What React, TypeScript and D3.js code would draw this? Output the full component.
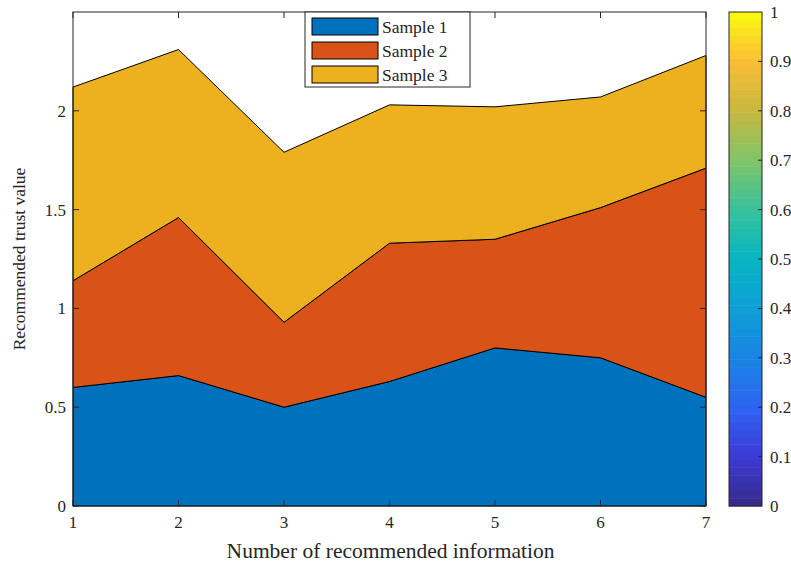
import React, { useEffect, useRef } from "react";
import * as d3 from "d3";

// Recommendation index on the x axis
const steps = [1, 2, 3, 4, 5, 6, 7];
// Stacked series values (each layer's own height)
const sample1 = [0.6, 0.66, 0.5, 0.63, 0.8, 0.75, 0.55];
const sample2 = [0.54, 0.8, 0.43, 0.7, 0.55, 0.76, 1.16];
const sample3 = [0.98, 0.85, 0.86, 0.7, 0.67, 0.56, 0.57];
const seriesNames = ["Sample 1", "Sample 2", "Sample 3"];
const seriesColors = ["#0072BD", "#D95319", "#EDB120"];
const yTicks = [0, 0.5, 1, 1.5, 2];
const cbTicks = [0, 0.1, 0.2, 0.3, 0.4, 0.5, 0.6, 0.7, 0.8, 0.9, 1];
// parula colormap anchors
const parulaStops = [
  "#352a87", "#3d3ad6", "#2d64f1", "#1a84e4", "#0e9fd6", "#07b5c3",
  "#38c29a", "#80c468", "#c8b840", "#fbbd36", "#f9fb0e",
];

const W = 791;
const H = 565;
const FONT = "Liberation Serif, Times New Roman, DejaVu Serif, serif";
const AXIS = "#262626";

export default function App() {
  const ref = useRef<SVGSVGElement>(null);

  useEffect(() => {
    const svg = d3.select(ref.current);
    svg.selectAll("*").remove();

    const plot = { left: 73, right: 706, top: 12, bottom: 506 };
    const x = d3.scaleLinear().domain([1, 7]).range([plot.left, plot.right]);
    const y = d3.scaleLinear().domain([0, 2.5]).range([plot.bottom, plot.top]);

    const rows = steps.map((s, i) => ({
      step: s,
      s1: sample1[i],
      s2: sample2[i],
      s3: sample3[i],
    }));
    const stacked = d3.stack<any>().keys(["s1", "s2", "s3"])(rows);

    const area = d3
      .area<any>()
      .x((d) => x(d.data.step))
      .y0((d) => y(d[0]))
      .y1((d) => y(d[1]));

    svg
      .append("rect")
      .attr("x", plot.left)
      .attr("y", plot.top)
      .attr("width", plot.right - plot.left)
      .attr("height", plot.bottom - plot.top)
      .attr("fill", "#fff");

    svg
      .append("g")
      .selectAll("path")
      .data(stacked)
      .join("path")
      .attr("d", (d) => area(d) as string)
      .attr("fill", (_, i) => seriesColors[i])
      .attr("stroke", "#000")
      .attr("stroke-width", 1)
      .attr("stroke-linejoin", "round");

    // axes box and inward ticks
    const ax = svg.append("g").attr("stroke", AXIS).attr("stroke-width", 1).attr("fill", "none");
    ax.append("rect")
      .attr("x", plot.left)
      .attr("y", plot.top)
      .attr("width", plot.right - plot.left)
      .attr("height", plot.bottom - plot.top);
    const tl = 6;
    steps.forEach((s) => {
      ax.append("line").attr("x1", x(s)).attr("x2", x(s)).attr("y1", plot.bottom).attr("y2", plot.bottom - tl);
      ax.append("line").attr("x1", x(s)).attr("x2", x(s)).attr("y1", plot.top).attr("y2", plot.top + tl);
    });
    yTicks.forEach((t) => {
      ax.append("line").attr("x1", plot.left).attr("x2", plot.left + tl).attr("y1", y(t)).attr("y2", y(t));
      ax.append("line").attr("x1", plot.right).attr("x2", plot.right - tl).attr("y1", y(t)).attr("y2", y(t));
    });

    const txt = svg.append("g").style("font-family", FONT).attr("fill", AXIS);
    steps.forEach((s) => {
      txt.append("text")
        .attr("x", x(s))
        .attr("y", plot.bottom + 22)
        .attr("text-anchor", "middle")
        .attr("font-size", 17)
        .text(String(s));
    });
    yTicks.forEach((t) => {
      txt.append("text")
        .attr("x", plot.left - 7)
        .attr("y", y(t))
        .attr("dy", "0.35em")
        .attr("text-anchor", "end")
        .attr("font-size", 17)
        .text(String(t));
    });
    txt.append("text")
      .attr("x", (plot.left + plot.right) / 2 + 1)
      .attr("y", plot.bottom + 52)
      .attr("text-anchor", "middle")
      .attr("font-size", 21.5)
      .text("Number of recommended information");
    txt.append("text")
      .attr("transform", `translate(25,${(plot.top + plot.bottom) / 2}) rotate(-90)`)
      .attr("text-anchor", "middle")
      .attr("font-size", 17.5)
      .text("Recommended trust value");

    // legend
    const lg = svg.append("g");
    lg.append("rect")
      .attr("x", 305)
      .attr("y", plot.top)
      .attr("width", 165)
      .attr("height", 75)
      .attr("fill", "#fff")
      .attr("stroke", AXIS)
      .attr("stroke-width", 1);
    seriesNames.forEach((name, i) => {
      const yy = 18 + i * 24;
      lg.append("rect")
        .attr("x", 312)
        .attr("y", yy)
        .attr("width", 66)
        .attr("height", 17)
        .attr("fill", seriesColors[i])
        .attr("stroke", "#000")
        .attr("stroke-width", 1);
      lg.append("text")
        .attr("x", 382)
        .attr("y", yy + 8.5)
        .attr("dy", "0.35em")
        .style("font-family", FONT)
        .attr("font-size", 17.5)
        .attr("fill", AXIS)
        .text(name);
    });

    // colorbar
    const cb = { left: 729, right: 762 };
    const cy = d3.scaleLinear().domain([0, 1]).range([plot.bottom, plot.top]);
    const parula = d3
      .scaleLinear<string>()
      .domain(parulaStops.map((_, i) => i / (parulaStops.length - 1)))
      .range(parulaStops)
      .interpolate(d3.interpolateRgb);
    const n = 64;
    const bins = d3.range(n);
    svg
      .append("g")
      .selectAll("rect")
      .data(bins)
      .join("rect")
      .attr("x", cb.left)
      .attr("width", cb.right - cb.left)
      .attr("y", (i) => cy((i + 1) / n))
      .attr("height", (i) => cy(i / n) - cy((i + 1) / n) + 0.5)
      .attr("fill", (i) => parula((i + 0.5) / n));
    svg
      .append("rect")
      .attr("x", cb.left)
      .attr("y", plot.top)
      .attr("width", cb.right - cb.left)
      .attr("height", plot.bottom - plot.top)
      .attr("fill", "none")
      .attr("stroke", AXIS)
      .attr("stroke-width", 1);
    cbTicks.forEach((t) => {
      if (t > 0 && t < 1) {
        svg.append("line")
          .attr("x1", cb.right)
          .attr("x2", cb.right - 4)
          .attr("y1", cy(t))
          .attr("y2", cy(t))
          .attr("stroke", AXIS);
      }
      svg.append("text")
        .attr("x", cb.right + 8)
        .attr("y", cy(t))
        .attr("dy", "0.35em")
        .style("font-family", FONT)
        .attr("font-size", 17)
        .attr("fill", AXIS)
        .text(String(t));
    });
  }, []);

  return (
    <svg
      ref={ref}
      width={W}
      height={H}
      style={{ position: "absolute", left: 0, top: 0, display: "block", background: "#fff" }}
    />
  );
}
